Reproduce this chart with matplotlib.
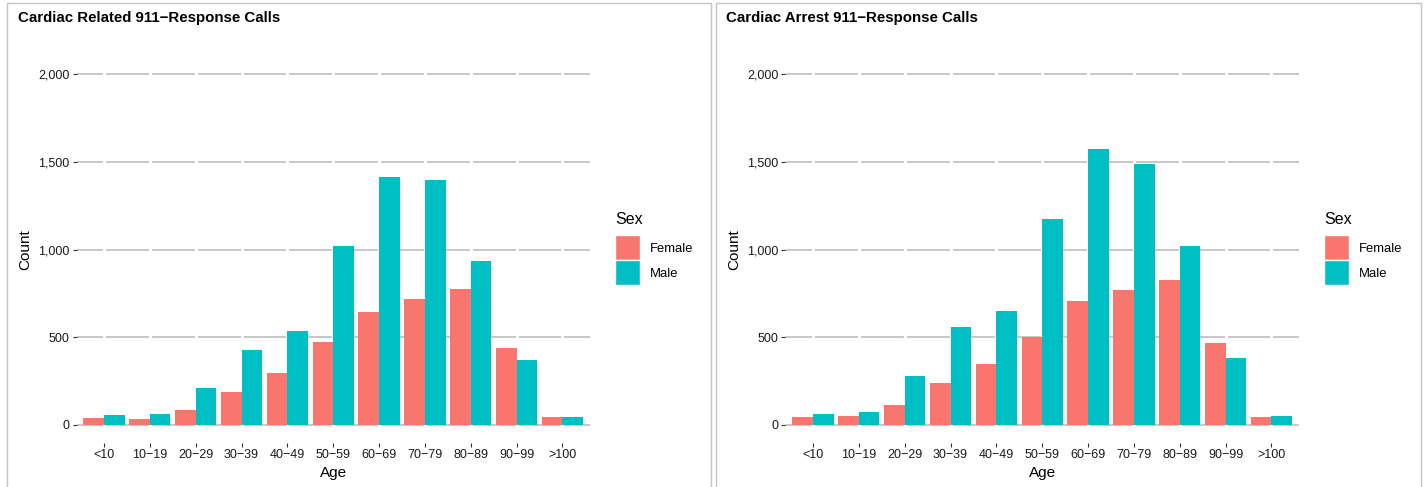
import matplotlib
matplotlib.use("Agg")
import matplotlib.pyplot as plt
from matplotlib.patches import Rectangle, Patch
from matplotlib.ticker import FuncFormatter
import numpy as np

plt.rcParams['font.family'] = ['Liberation Sans', 'DejaVu Sans']

age_groups = ["<10", "10\u221219", "20\u221229", "30\u221239", "40\u221249", "50\u221259",
              "60\u221269", "70\u221279", "80\u221289", "90\u221299", ">100"]
sexes = ["Female", "Male"]
colors = ["#F8766D", "#00BFC4"]

related_female = [42, 34, 85, 188, 296, 472, 643, 717, 774, 438, 47]
related_male = [57, 63, 211, 427, 535, 1019, 1412, 1395, 934, 370, 47]
arrest_female = [47, 51, 114, 239, 347, 501, 706, 768, 825, 467, 47]
arrest_male = [63, 74, 279, 558, 649, 1173, 1571, 1486, 1019, 381, 51]

titles = ["Cardiac Related 911\u2212Response Calls", "Cardiac Arrest 911\u2212Response Calls"]
yticks = [0, 500, 1000, 1500, 2000]

W, H = 1424, 487
fig = plt.figure(figsize=(W / 100, H / 100), dpi=100)

# panel borders
for (x0, x1) in [(7, 711), (716, 1421)]:
    fig.add_artist(Rectangle((x0 / W, -0.01), (x1 - x0) / W, (H - 3) / H + 0.01,
                             transform=fig.transFigure, fill=False,
                             edgecolor="#C4C4C4", linewidth=1.0))

panels = [
    dict(data=(related_female, related_male), title=titles[0], ax_left=76.5, title_x=18, leg_x=615),
    dict(data=(arrest_female, arrest_male), title=titles[1], ax_left=785.5, title_x=726, leg_x=1324),
]

ax_w = 513.5
ax_top, ax_bot = 56.5, 442.5

for p in panels:
    ax = fig.add_axes([p["ax_left"] / W, (H - ax_bot) / H, ax_w / W, (ax_bot - ax_top) / H])
    x = np.arange(len(age_groups))
    w = 0.45
    for i, (vals, c, s) in enumerate(zip(p["data"], colors, sexes)):
        ax.bar(x + (i - 0.5) * w, vals, width=w, color=c, label=s, zorder=3, linewidth=0)
    ax.set_xlim(-0.6, len(age_groups) - 0.4)
    ax.set_ylim(-100, 2100)
    for yv in yticks:
        ax.axhline(yv, color="#BEBEBE", linewidth=1.2, zorder=1)
    for xv in x:
        ax.axvline(xv, color="white", linewidth=2.2, zorder=2)
    for s in ax.spines.values():
        s.set_visible(False)
    ax.set_xticks(x)
    ax.set_xticklabels(age_groups)
    ax.set_yticks(yticks)
    ax.yaxis.set_major_formatter(FuncFormatter(lambda v, pos: f"{int(v):,}"))
    ax.tick_params(axis="both", colors="#333333", labelsize=9, length=3, width=0.8, pad=2)
    ax.tick_params(axis="both", labelcolor="#1a1a1a")
    ax.set_xlabel("Age", fontsize=11, labelpad=3)
    ax.set_ylabel("Count", fontsize=11, labelpad=4)
    fig.text(p["title_x"] / W, (H - 18) / H, p["title"], fontsize=10.8, fontweight="bold",
             ha="left", va="center")
    handles = [Patch(facecolor=c, edgecolor="white", linewidth=1) for c in colors]
    leg = fig.legend(handles, sexes, title="Sex", loc="upper left",
                     bbox_to_anchor=(p["leg_x"] / W, (H - 212) / H),
                     frameon=False, fontsize=9.4, title_fontsize=11.5,
                     handlelength=1.9, handleheight=2.5, labelspacing=0.05,
                     handletextpad=0.75, borderaxespad=0, borderpad=0)
    leg._legend_box.align = "left"
    leg._legend_box.sep = 6

fig.savefig("out.png", dpi=100, facecolor="white")
